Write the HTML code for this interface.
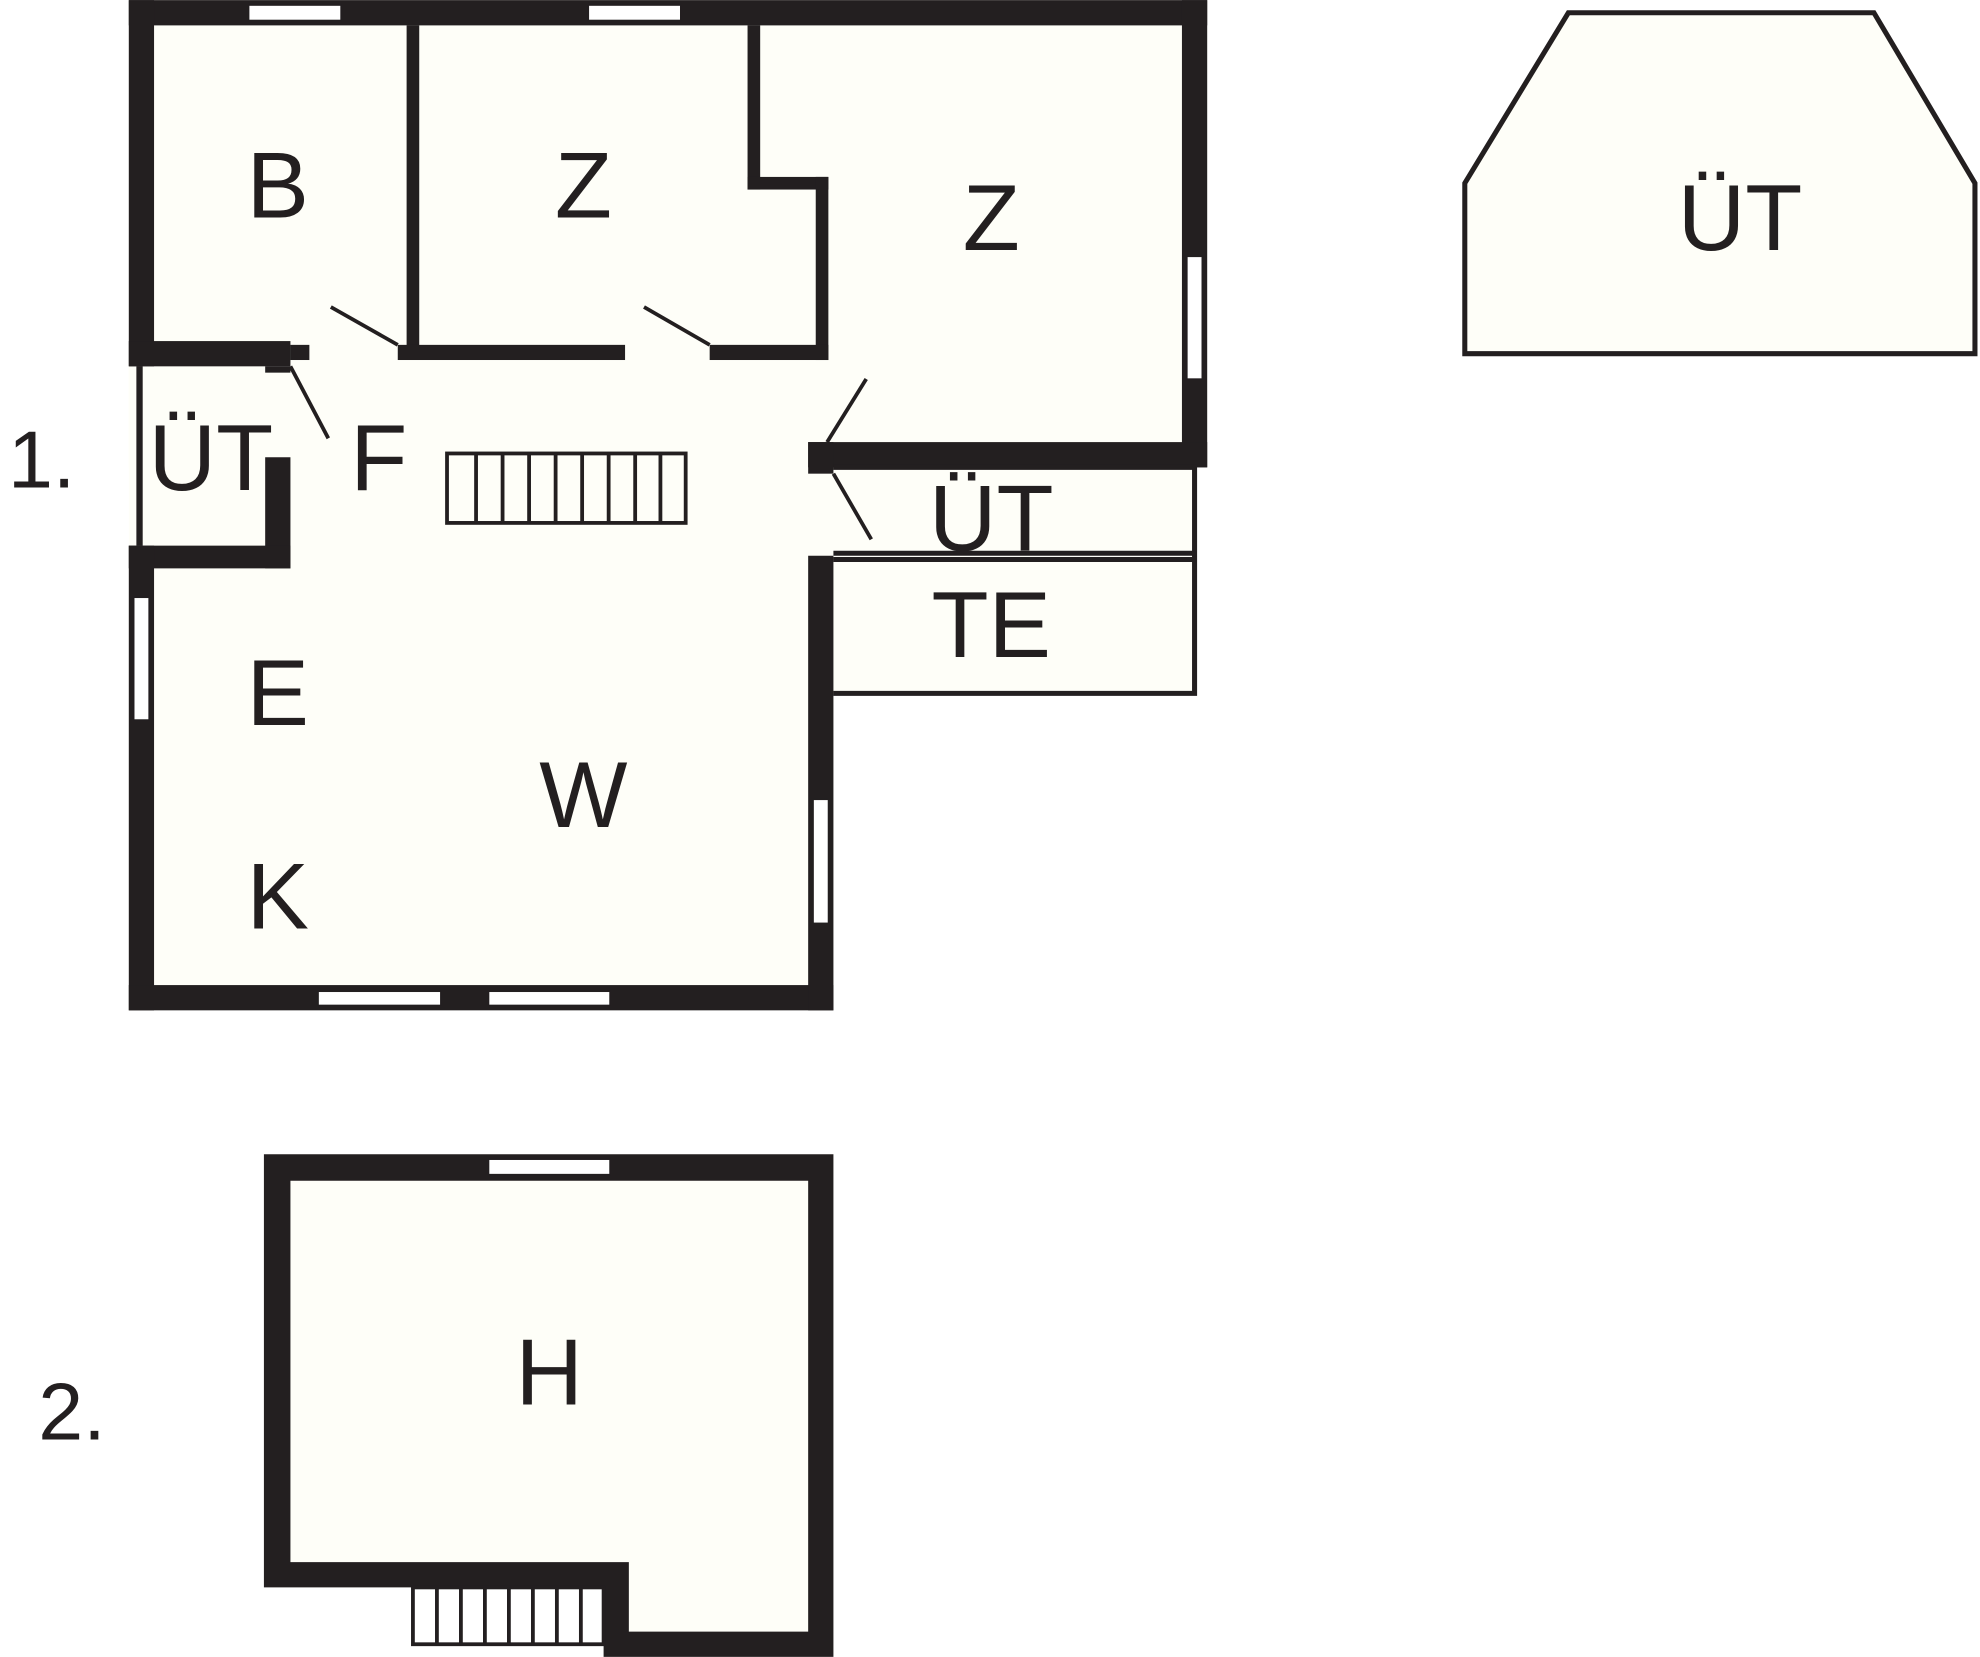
<!DOCTYPE html>
<html><head><meta charset="utf-8"><style>html,body{margin:0;padding:0;background:#fff}svg{display:block}</style></head>
<body>
<svg width="1980" height="1657" viewBox="0 0 1568 1312" xmlns="http://www.w3.org/2000/svg" font-family="Liberation Sans, sans-serif">
<!-- floors -->
<g fill="#fefef8">
<rect x="102" y="0" width="854" height="370"/>
<rect x="102" y="270" width="558" height="530"/>
<rect x="660" y="370" width="286" height="179"/>
<path d="M209 914 H660 V1312 H478 V1257 H209 Z"/>
</g>
<g fill="#231f20">
<!-- outer top -->
<rect x="102" y="0" width="854" height="20"/>
<rect x="102" y="0" width="20" height="290"/>
<rect x="936" y="0" width="20" height="370"/>
<rect x="102" y="270" width="128" height="20"/>
<rect x="230" y="273" width="15" height="12"/>
<rect x="322" y="20" width="10" height="262"/>
<rect x="592" y="20" width="10" height="130"/>
<rect x="592" y="140" width="64" height="10"/>
<rect x="646" y="140" width="10" height="145"/>
<rect x="315" y="273" width="180" height="12"/>
<rect x="562" y="273" width="94" height="12"/>
<rect x="640" y="350" width="316" height="20"/>
<rect x="640" y="350" width="20" height="25"/>
<!-- small UT -->
<rect x="108" y="290" width="5" height="142"/>
<rect x="210" y="290" width="20" height="5"/>
<rect x="210" y="362" width="20" height="88"/>
<rect x="102" y="432" width="128" height="18"/>
<rect x="102" y="432" width="20" height="368"/>
<rect x="102" y="780" width="558" height="20"/>
<rect x="640" y="440" width="20" height="360"/>
<!-- floor 2 -->
<path fill-rule="evenodd" d="M209 914 H660 V1312 H478 V1257 H209 Z M230 935 V1237 H498 V1292 H640 V935 Z"/>
</g>
<!-- windows -->
<g fill="#fff" stroke="#231f20" stroke-width="1">
<rect x="197" y="4" width="73" height="12"/>
<rect x="466" y="4" width="73" height="12"/>
<rect x="940" y="203" width="12" height="97"/>
<rect x="106" y="473" width="12" height="97"/>
<rect x="644" y="633" width="12" height="98"/>
<rect x="252" y="785" width="97" height="11"/>
<rect x="387" y="785" width="96" height="11"/>
<rect x="387" y="918" width="96" height="12"/>
</g>
<!-- door swings -->
<g stroke="#231f20" stroke-width="3" fill="none">
<line x1="262" y1="243" x2="315" y2="273"/>
<line x1="510" y1="243" x2="562" y2="273"/>
<line x1="230" y1="290" x2="260" y2="347"/>
<line x1="655" y1="350" x2="686" y2="300"/>
<line x1="660" y1="375" x2="690" y2="427"/>
</g>
<!-- annex -->
<g stroke="#231f20" stroke-width="4" fill="none">
<path d="M660 370 H946 V549 H660"/>
<line x1="660" y1="438" x2="946" y2="438"/>
<line x1="660" y1="443" x2="946" y2="443"/>
<polygon points="1242,10 1484,10 1564,145 1564,280 1160,280 1160,145" fill="#fefef8"/>
</g>
<!-- stairs -->
<g stroke="#231f20" stroke-width="3" fill="none">
<rect x="354" y="359" width="189" height="55"/>
<path d="M377 359V414M398 359V414M419 359V414M440 359V414M461 359V414M482 359V414M503 359V414M523 359V414"/>
<rect x="327" y="1257" width="151" height="45"/>
<path d="M346 1257V1302M365 1257V1302M384 1257V1302M403 1257V1302M422 1257V1302M441 1257V1302M460 1257V1302"/>
</g>
<g fill="#231f20" font-size="74" text-anchor="middle">
<text x="220" y="172">B</text>
<text x="462" y="172">Z</text>
<text x="785" y="198">Z</text>
<text x="1378" y="198">ÜT</text>
<text x="167" y="388">ÜT</text>
<text x="300" y="388">F</text>
<text x="785" y="436">ÜT</text>
<text x="785" y="520">TE</text>
<text x="220" y="574">E</text>
<text x="462" y="655">W</text>
<text x="220" y="735">K</text>
<text x="435" y="1112">H</text>
<text x="33" y="386" font-size="64">1.</text>
<text x="57" y="1140" font-size="64">2.</text>
</g>
</svg>
</body></html>
